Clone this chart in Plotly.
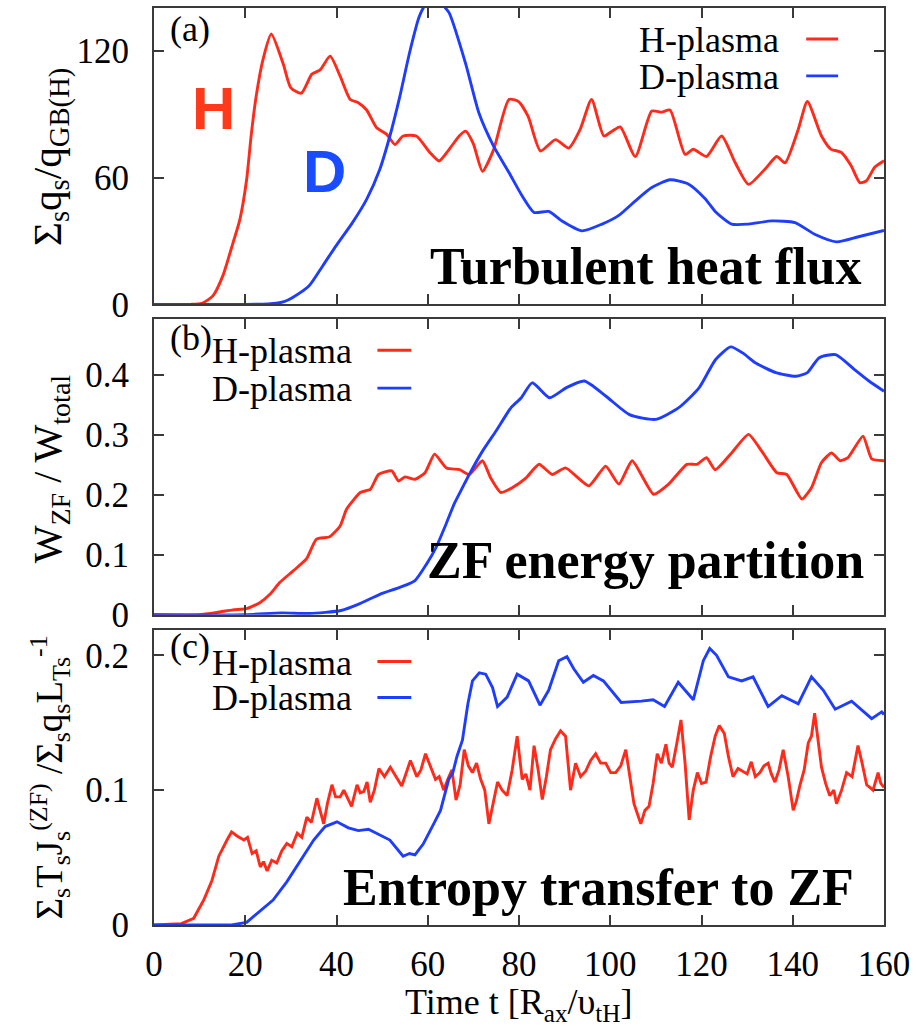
import plotly.graph_objects as go

# ---------------- data ----------------
# (a) turbulent heat flux
tA_H = [0, 8, 10.5, 12.9, 15.1, 17.3, 18.8, 20.3, 21.3, 22.4, 23.9, 25.7, 28.3, 30.0, 32.3, 34.6, 36.4, 38.6, 40.8, 43.0,
        44.7, 46.6, 48.8, 51.0, 52.8, 54.6, 57.5, 60.5, 62.5, 64.7, 66.9, 68.3, 70.0, 72.0, 74.4, 77.8, 79.9, 82.0, 84.7, 88.0,
        90.9, 93.4, 95.9, 98.6, 100.4, 102.2, 105.5, 109.1, 111.3, 113.1, 116.4, 118.2, 121.1, 124.4, 127.4, 130.3, 133.9,
        136.5, 138.3, 141.2, 143.2, 146.3, 148.4, 150.6, 152.8, 154.7, 156.1, 158.0, 160.0]
qA_H = [0, 0, 0.5, 4, 13.6, 29, 40, 59, 80, 98.6, 116, 128, 114, 102.5, 100, 109, 111, 117.5, 108, 97,
        95.6, 92, 83.6, 80.5, 75.7, 79.7, 79.7, 71.8, 67.9, 73.4, 79.7, 82, 76, 63, 73, 97, 96, 89, 72.6, 78,
        74, 82.8, 97, 79.7, 82, 84, 70, 91.5, 91, 92, 71, 73.4, 70, 79.7, 67, 56.8, 64,
        70, 67, 82.8, 96, 79.7, 73.4, 72, 65.6, 57.6, 58.4, 65, 68]
tA_D = [0, 20, 25, 26.8, 28.5, 30.4, 34.0, 37.0, 39.9, 43.5, 46.6, 49.5, 51.7, 53.9, 56.0, 58.1, 59.2, 61.5, 63.6, 64.7,
        68.3, 71.2, 74.4, 77.8, 80.7, 83.3, 86.5, 89.4, 93.8, 98.2, 101.8, 105.5, 109.1, 113.1, 117.1, 120.8, 123.0, 126.6,
        130.3, 135.4, 140.5, 144.8, 149.6, 154.4, 160]
qA_D = [0, 0, 0.2, 0.5, 1.3, 3.3, 8.8, 18.3, 27.7, 38.7, 49.7, 64, 79.7, 98.6, 119, 136, 141, 147, 141, 138,
        114, 90.7, 75, 62.4, 51.3, 43.5, 44, 39.5, 34.8, 38, 42, 49, 55.3, 59, 57, 50, 44, 38,
        38, 39.5, 38.7, 33.2, 29.6, 32, 35]

# (b) ZF energy partition
tB_H = [0, 10, 14, 17.3, 20.3, 23.2, 25.4, 27.6, 30.5, 33.4, 35.6, 38.5, 40.8, 42.2, 45.2, 47.4, 49.2, 52.1, 53.6, 55.0,
        57.2, 59.4, 61.5, 64.1, 67.0, 69.1, 72.0, 73.8, 76.0, 78.5, 81.5, 84.4, 87.3, 90.2, 95.3, 99.0, 101.9, 104.8, 109.5,
        112.8, 116.8, 119.0, 121.1, 123.0, 126.6, 130.3, 133.2, 136.5, 138.7, 142.0, 144.1, 146.3, 148.5, 150.4, 152.1,
        155.4, 157.3, 160]
wB_H = [0, 0, 0.004, 0.008, 0.01, 0.02, 0.034, 0.054, 0.073, 0.093, 0.126, 0.13, 0.148, 0.176, 0.204, 0.209, 0.234, 0.24,
        0.223, 0.23, 0.226, 0.237, 0.268, 0.245, 0.242, 0.234, 0.257, 0.228, 0.204, 0.212, 0.228, 0.251, 0.234, 0.245,
        0.215, 0.248, 0.218, 0.257, 0.201, 0.218, 0.251, 0.251, 0.262, 0.242, 0.27, 0.301, 0.273, 0.237, 0.234, 0.193,
        0.212, 0.254, 0.27, 0.257, 0.262, 0.298, 0.26, 0.257]
tB_D = [0, 20, 28, 34, 41, 45, 49.5, 54, 57.2, 59.7, 61.8, 64.0, 65.8, 67.6, 69.1, 72.0, 75.0, 78.3, 80.5, 82.9,
        86.7, 90.4, 94.3, 99.0, 104.2, 110.0, 115.1, 119.5, 123.1, 126.4, 129.0, 131.9, 136.3, 140.7, 143.2, 145.8,
        149.4, 153.4, 156.7, 160]
wB_D = [0, 0, 0.003, 0.002, 0.007, 0.018, 0.034, 0.046, 0.057, 0.084, 0.112, 0.151, 0.185, 0.212, 0.234, 0.273, 0.307,
        0.346, 0.362, 0.387, 0.362, 0.379, 0.39, 0.365, 0.334, 0.326, 0.346, 0.379, 0.426, 0.447, 0.437, 0.42, 0.404,
        0.398, 0.404, 0.429, 0.434, 0.41, 0.39, 0.373]

# (c) entropy transfer to ZF
tC_H = [0, 6, 8.7, 10.9, 12.7, 14.2, 16, 17, 18.2, 19.7, 20.5, 21.5, 22.4, 23.3, 24, 24.8, 25.8, 26.9, 28, 29.1,
        30.2, 31.4, 32.4, 33.5, 34.5, 35.7, 36.4, 37.2, 38, 39, 39.8, 40.8, 41.6, 42.4, 43.3, 44.5, 45.2, 46, 46.7, 47.4,
        48.3, 49.3, 50.5, 51.8, 53, 54.3, 55.2, 56.2, 57.6, 58.5, 59.5, 60.5, 61.7, 62.5, 63.5, 64.4, 65.3, 66.2, 67.1, 68,
        68.9, 69.8, 70.7, 71.6, 72.5, 73.4, 74.3, 75.3, 76.3, 77.4, 78.5, 79.6, 80.7, 81.5, 82.4, 83.3, 84.2, 85.1, 86,
        86.9, 88, 89.1, 90.2, 91.3, 92.4, 93.5, 94.6, 95.7, 96.8, 97.9, 99, 100.1, 101.2, 102.3, 103.4, 104.3, 105.2, 106,
        106.7, 107.6, 108.5, 109.4, 110.3, 111.2, 112.2, 112.9, 113.6, 114.6, 115.5, 116.4, 117.3, 118.2, 119.1, 120, 121,
        122, 123, 123.9, 125, 125.9, 126.9, 128, 129.1, 130, 130.9, 131.8, 132.8, 133.7, 134.6, 135.3, 136.1, 137, 137.9,
        139, 140.1, 140.8, 141.6, 142.5, 143.4, 144.1, 144.8, 145.5, 146.3, 147.2, 148.1, 149, 149.6, 150.7, 151.8, 153,
        154.3, 155.2, 156.2, 157.6, 158.7, 159.3, 160]
eC_H = [0, 0.001, 0.005, 0.0185, 0.033, 0.051, 0.063, 0.069, 0.066, 0.063, 0.065, 0.053, 0.055, 0.043, 0.047, 0.04, 0.048,
        0.046, 0.055, 0.0605, 0.058, 0.068, 0.065, 0.08, 0.076, 0.094, 0.085, 0.075, 0.09, 0.104, 0.095, 0.095, 0.1, 0.094,
        0.088, 0.104, 0.098, 0.099, 0.106, 0.091, 0.1, 0.116, 0.11, 0.117, 0.11, 0.103, 0.112, 0.122, 0.11, 0.115, 0.127,
        0.118, 0.108, 0.11, 0.1, 0.108, 0.115, 0.0926, 0.104, 0.13, 0.118, 0.113, 0.12, 0.108, 0.1, 0.075, 0.09, 0.106, 0.1,
        0.096, 0.115, 0.14, 0.108, 0.112, 0.1, 0.133, 0.115, 0.093, 0.11, 0.13, 0.138, 0.144, 0.14, 0.1, 0.12, 0.11, 0.114,
        0.122, 0.127, 0.12, 0.12, 0.113, 0.113, 0.118, 0.13, 0.11, 0.09, 0.082, 0.075, 0.085, 0.088, 0.105, 0.127, 0.12,
        0.134, 0.12, 0.117, 0.135, 0.152, 0.12, 0.078, 0.1, 0.113, 0.105, 0.106, 0.125, 0.14, 0.148, 0.142, 0.125, 0.11,
        0.116, 0.114, 0.112, 0.121, 0.11, 0.113, 0.118, 0.12, 0.112, 0.106, 0.115, 0.13, 0.11, 0.085, 0.092, 0.104, 0.115,
        0.135, 0.14, 0.157, 0.14, 0.117, 0.105, 0.096, 0.1, 0.09, 0.1, 0.113, 0.11, 0.133, 0.12, 0.104, 0.1, 0.113, 0.105,
        0.102]
tC_D = [0, 17, 20.3, 23.2, 26.1, 29.1, 32, 35, 37.5, 40.1, 42.6, 44.8, 47, 49.5, 51.7, 54.6, 56, 57.2, 59, 61.3,
        62.8, 64.6, 65.5, 66.4, 67.6, 68.8, 69.8, 71.3, 72.7, 74.2, 75.3, 77.4, 79.6, 82.1, 84.6, 86.5, 88.7, 90.5, 92,
        94.1, 96.3, 98.5, 102.4, 106.8, 109.4, 111.9, 114.9, 118.2, 120.4, 121.8, 123.3, 125.9, 128.8, 131.3, 134.6,
        137.6, 141.2, 144.1, 146.7, 149.3, 152.9, 157.3, 159.5, 160]
eC_D = [0, 0, 0.002, 0.01, 0.0185, 0.032, 0.047, 0.063, 0.073, 0.0765, 0.072, 0.07, 0.071, 0.067, 0.063, 0.051, 0.053,
        0.052, 0.06, 0.075, 0.085, 0.108, 0.113, 0.125, 0.137, 0.164, 0.181, 0.187, 0.186, 0.176, 0.162, 0.169, 0.186,
        0.181, 0.163, 0.174, 0.196, 0.199, 0.19, 0.18, 0.185, 0.181, 0.165, 0.166, 0.167, 0.162, 0.18, 0.167, 0.196,
        0.205, 0.2, 0.184, 0.181, 0.184, 0.162, 0.17, 0.164, 0.184, 0.174, 0.16, 0.166, 0.153, 0.158, 0.156]

x_ticks = [0, 20, 40, 60, 80, 100, 120, 140, 160]
legend_names = ["H-plasma", "D-plasma"]
panel_titles = ["Turbulent heat flux", "ZF energy partition", "Entropy transfer to ZF"]

RED = "#ff2a1a"
BLUE = "#1f3dff"
SERIF = "Liberation Serif"

fig = go.Figure()
LW = 2.9
fig.add_trace(go.Scatter(x=tA_H, y=qA_H, mode="lines", line=dict(color=RED, width=LW, shape="spline", smoothing=0.6), xaxis="x", yaxis="y"))
fig.add_trace(go.Scatter(x=tA_D, y=qA_D, mode="lines", line=dict(color=BLUE, width=LW, shape="spline", smoothing=0.6), xaxis="x", yaxis="y"))
fig.add_trace(go.Scatter(x=tB_H, y=wB_H, mode="lines", line=dict(color=RED, width=LW, shape="spline", smoothing=0.5), xaxis="x2", yaxis="y2"))
fig.add_trace(go.Scatter(x=tB_D, y=wB_D, mode="lines", line=dict(color=BLUE, width=LW, shape="spline", smoothing=0.6), xaxis="x2", yaxis="y2"))
fig.add_trace(go.Scatter(x=tC_H, y=eC_H, mode="lines", line=dict(color=RED, width=LW), xaxis="x3", yaxis="y3"))
fig.add_trace(go.Scatter(x=tC_D, y=eC_D, mode="lines", line=dict(color=BLUE, width=LW), xaxis="x3", yaxis="y3"))

FS = 35
common_axis = dict(showline=True, linecolor="#3a3a3a", linewidth=2, mirror="ticks", ticks="inside",
                   ticklen=10, tickwidth=1.5, tickcolor="#3a3a3a", showgrid=False, zeroline=False,
                   tickfont=dict(family=SERIF, size=FS, color="black"))

# plot area in page pixels: x 154..886, y 6..925
H_PLOT = 919.0
def py2paper(py):
    return (925 - py) / H_PLOT

def px2paper(px):
    return (px - 154) / 732.0

dA = [py2paper(303), 1.0]
dB = [py2paper(614), py2paper(318)]
dC = [0.0, py2paper(629)]

fig.update_layout(
    width=916, height=1027,
    margin=dict(l=154, r=30, t=6, b=102),
    paper_bgcolor="white", plot_bgcolor="white",
    showlegend=False,
    xaxis=dict(domain=[0, 1], anchor="y", range=[0, 160], tickvals=x_ticks, showticklabels=False, **common_axis),
    xaxis2=dict(domain=[0, 1], anchor="y2", range=[0, 160], tickvals=x_ticks, showticklabels=False, **common_axis),
    xaxis3=dict(domain=[0, 1], anchor="y3", range=[0, 160], tickvals=x_ticks, ticklabelstandoff=7,
                ticklabeloverflow="allow", **common_axis),
    yaxis=dict(domain=dA, anchor="x", range=[0, 140.3], tickvals=[0, 60, 120], ticklabelstandoff=16, **common_axis),
    yaxis2=dict(domain=dB, anchor="x2", range=[0, 0.493], tickvals=[0, 0.1, 0.2, 0.3, 0.4],
                ticktext=["0", "0.1", "0.2", "0.3", "0.4"], ticklabelstandoff=16, **common_axis),
    yaxis3=dict(domain=dC, anchor="x3", range=[0, 0.219], tickvals=[0, 0.1, 0.2],
                ticktext=["0", "0.1", "0.2"], ticklabelstandoff=16, **common_axis),
)

ann = []
font_txt = dict(family=SERIF, size=36, color="black")
# panel labels
for lab, py in [("(a)", 27), ("(b)", 337), ("(c)", 645)]:
    ann.append(dict(text=lab, x=px2paper(168), y=py2paper(py), xref="paper", yref="paper",
                    xanchor="left", yanchor="middle", showarrow=False, font=font_txt))
# legends (text right-aligned, sample line to the right)
legend_pos = [(783, 38, 75, 808, 840), (355, 350, 388, 378, 412), (355, 662, 698, 378, 412)]
shapes = []
for (txr, y1, y2, l0, l1) in legend_pos:
    for name, yy, col in [(legend_names[0], y1, RED), (legend_names[1], y2, BLUE)]:
        ann.append(dict(text=name, x=px2paper(txr), y=py2paper(yy), xref="paper", yref="paper",
                        xanchor="right", yanchor="middle", showarrow=False, font=font_txt))
        shapes.append(dict(type="line", xref="paper", yref="paper", x0=px2paper(l0), x1=px2paper(l1),
                           y0=py2paper(yy - 1), y1=py2paper(yy - 1), line=dict(color=col, width=LW)))
# panel titles
for title, px, py in [(panel_titles[0], 866, 265), (panel_titles[1], 868, 560), (panel_titles[2], 858, 887)]:
    ann.append(dict(text="<b>" + title + "</b>", x=px2paper(px), y=py2paper(py), xref="paper", yref="paper",
                    xanchor="right", yanchor="middle", showarrow=False,
                    font=dict(family=SERIF, size=52, color="black")))
# big H / D markers
ann.append(dict(text="<b>H</b>", x=px2paper(214), y=py2paper(107), xref="paper", yref="paper", showarrow=False,
                xanchor="center", yanchor="middle", font=dict(family="Liberation Sans", size=60, color="#ff3a1a")))
ann.append(dict(text="<b>D</b>", x=px2paper(325), y=py2paper(170), xref="paper", yref="paper", showarrow=False,
                xanchor="center", yanchor="middle", font=dict(family="Liberation Sans", size=60, color="#1a4cff")))
# y-axis titles
ytitles = [("Σ<sub>s</sub>q<sub>s</sub>/q<sub>GB(H)</sub>", 155, 41),
           ("W<sub>ZF</sub> / W<sub>total</sub>", 468, 40),
           ("Σ<sub>s</sub>T<sub>s</sub>J<sub>s</sub><sup>(ZF)</sup> /Σ<sub>s</sub>q<sub>s</sub>L<sub>Ts</sub><sup>-1</sup>", 777, 37)]
for txt, py, fs in ytitles:
    ann.append(dict(text=txt, x=px2paper(50), y=py2paper(py), xref="paper", yref="paper", textangle=-90,
                    xanchor="center", yanchor="middle", showarrow=False,
                    font=dict(family=SERIF, size=fs, color="black")))
# x-axis title
ann.append(dict(text="Time t [R<sub>ax</sub>/υ<sub>tH</sub>]", x=px2paper(520), y=py2paper(1005), xref="paper",
                yref="paper", xanchor="center", yanchor="middle", showarrow=False,
                font=dict(family=SERIF, size=36, color="black")))

fig.update_layout(annotations=ann, shapes=shapes)
# remove the default 8px page margin so the figure fills the 916x1027 window exactly
fig.write_html("out.html", config={"displayModeBar": False},
               post_script="document.body.style.margin='0';document.body.style.overflow='hidden';")
